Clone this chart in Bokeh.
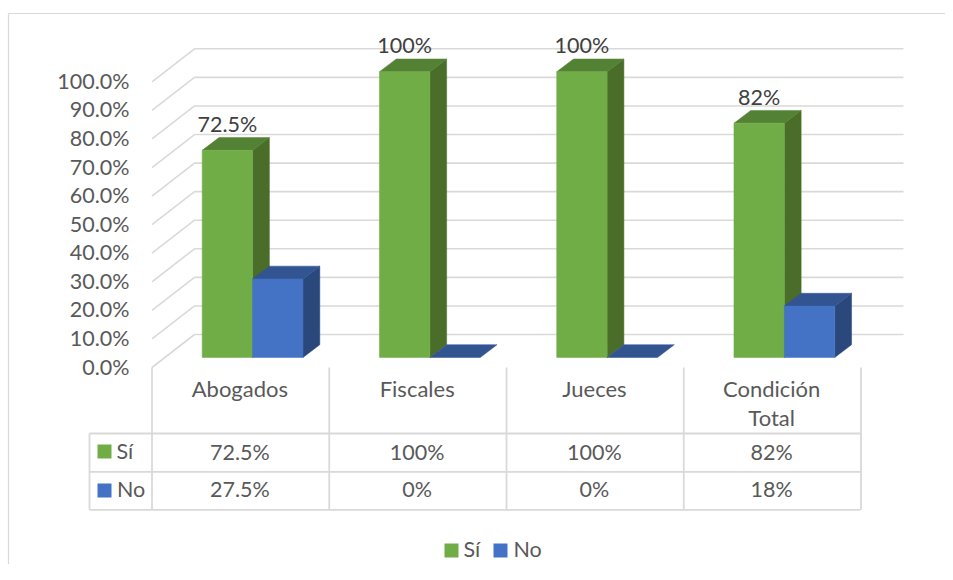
from bokeh.plotting import figure
from bokeh.models import Range1d
from bokeh.core.properties import value
from bokeh.embed import file_html
from bokeh.resources import INLINE

# ---------- data ----------
categories = ["Abogados", "Fiscales", "Jueces", "Condición"]
category_second_line = ["", "", "", "Total"]
si_values = [72.5, 100, 100, 82]
no_values = [27.5, 0, 0, 18]
si_labels = ["72.5%", "100%", "100%", "82%"]
no_labels = ["27.5%", "0%", "0%", "18%"]
tick_values = [0, 10, 20, 30, 40, 50, 60, 70, 80, 90, 100]
tick_labels = ["0.0%", "10.0%", "20.0%", "30.0%", "40.0%", "50.0%", "60.0%", "70.0%", "80.0%", "90.0%", "100.0%"]
series_names = ["Sí", "No"]

# ---------- layout ----------
W, H = 945, 564
LEFT, TOP = 0, 0
PX_PER_CAT = 177.25
PX_PER_PCT = 2.857
ORIGIN_X, ORIGIN_Y = 151.5, 357.0


def X(px):
    return (px - ORIGIN_X) / PX_PER_CAT


def Y(py):
    return (ORIGIN_Y - py) / PX_PER_PCT


GREEN, GREEN_SIDE, GREEN_TOP = "#70AD47", "#4A6E2A", "#548235"
BLUE, BLUE_SIDE, BLUE_TOP = "#4472C4", "#2A487C", "#325592"
LINE = "#D9D9D9"
TXT = "#595959"
LBL = "#404040"
FONT = value("Lato")
FS = "21.5px"
FS_CAT = "22px"

p = figure(width=W, height=H, output_backend="svg", toolbar_location=None,
           x_range=Range1d(X(LEFT), X(LEFT + W)), y_range=Range1d(Y(TOP + H), Y(TOP)),
           min_border=0, min_border_left=0, min_border_right=0, min_border_top=0, min_border_bottom=0)
p.axis.visible = False
p.grid.visible = False
p.outline_line_color = None

# chart frame
p.line([X(8), X(8)], [Y(TOP + H), Y(13)], line_color=LINE, line_width=1.2)
p.line([X(8), X(953)], [Y(13), Y(13)], line_color=LINE, line_width=1.2)

# 3D gridlines (side wall + back wall)
GRID_FRONT_DY = Y(367)          # front edge of floor, value offset
GRID_BACK_DY = Y(334)           # back edge of floor, value offset
for v in tick_values:
    p.line([0, X(194), X(903)],
           [v + GRID_FRONT_DY, v + GRID_BACK_DY, v + GRID_BACK_DY],
           line_color=LINE, line_width=1.6)

# 3D bars
BAR_OFFSET = X(201.7)
BAR_W = 50.4 / PX_PER_CAT
DEPTH_X = 16.8 / PX_PER_CAT
DEPTH_Y = 12.8 / PX_PER_PCT


def bars(values, start, front, side, top):
    for i, v in enumerate(values):
        x0 = i + start
        x1 = x0 + BAR_W
        if v > 0:
            p.patch([x1, x1 + DEPTH_X, x1 + DEPTH_X, x1], [0, DEPTH_Y, v + DEPTH_Y, v],
                    fill_color=side, line_color=side, line_width=0.5)
        p.patch([x0, x1, x1 + DEPTH_X, x0 + DEPTH_X], [v, v, v + DEPTH_Y, v + DEPTH_Y],
                fill_color=top, line_color=top, line_width=0.5)
        if v > 0:
            p.quad(left=x0, right=x1, bottom=0, top=v, fill_color=front, line_color=front, line_width=0.5)


bars(si_values, BAR_OFFSET, GREEN, GREEN_SIDE, GREEN_TOP)
bars(no_values, BAR_OFFSET + BAR_W, BLUE, BLUE_SIDE, BLUE_TOP)

# data labels
p.text([i + BAR_OFFSET + BAR_W / 2 for i in range(4)], si_values, text=si_labels,
       text_font=FONT, text_font_size=FS, text_color=LBL, text_align="center",
       text_baseline="middle", y_offset=-26.5)

# tick labels
p.text([X(129)] * len(tick_values), [v + GRID_FRONT_DY for v in tick_values], text=tick_labels,
       text_font=FONT, text_font_size=FS, text_color=TXT, text_align="right", text_baseline="middle",
       y_offset=-1)

# data table rules
TBL_Y = [433, 471.3, 509.3]
for py in TBL_Y:
    p.line([X(89), X(860)], [Y(py), Y(py)], line_color=LINE, line_width=1.8)
p.line([X(89), X(89)], [Y(433), Y(509.3)], line_color=LINE, line_width=1.8)
for i in range(5):
    p.line([i, i], [Y(367), Y(509.3)], line_color=LINE, line_width=1.8)

# category labels
cx = [i + 0.5 - 0.004 for i in range(4)]
p.text(cx, [Y(388.2)] * 4, text=categories, text_font=FONT, text_font_size=FS_CAT, text_color=TXT,
       text_align="center", text_baseline="middle")
p.text(cx, [Y(417.2)] * 4, text=category_second_line, text_font=FONT, text_font_size=FS_CAT, text_color=TXT,
       text_align="center", text_baseline="middle")

# table values
p.text(cx, [Y(451)] * 4, text=si_labels, text_font=FONT, text_font_size=FS, text_color=TXT,
       text_align="center", text_baseline="middle")
p.text(cx, [Y(488.6)] * 4, text=no_labels, text_font=FONT, text_font_size=FS, text_color=TXT,
       text_align="center", text_baseline="middle")

# table legend keys
p.quad(left=X(97), right=X(111), top=Y(444), bottom=Y(458), fill_color=GREEN, line_color=None)
p.quad(left=X(97), right=X(111), top=Y(483), bottom=Y(497), fill_color=BLUE, line_color=None)
p.text([X(116), X(116.5)], [Y(450), Y(488.8)], text=series_names, text_font=FONT, text_font_size=FS,
       text_color=TXT, text_align="left", text_baseline="middle")

# legend
p.quad(left=X(444), right=X(458), top=Y(543), bottom=Y(557), fill_color=GREEN, line_color=None)
p.quad(left=X(493), right=X(507), top=Y(543), bottom=Y(557), fill_color=BLUE, line_color=None)
p.text([X(463), X(513)], [Y(548.2), Y(548.2)], text=series_names, text_font=FONT, text_font_size=FS,
       text_color=TXT, text_align="left", text_baseline="middle")

open("out.html", "w").write(file_html(p, INLINE))
